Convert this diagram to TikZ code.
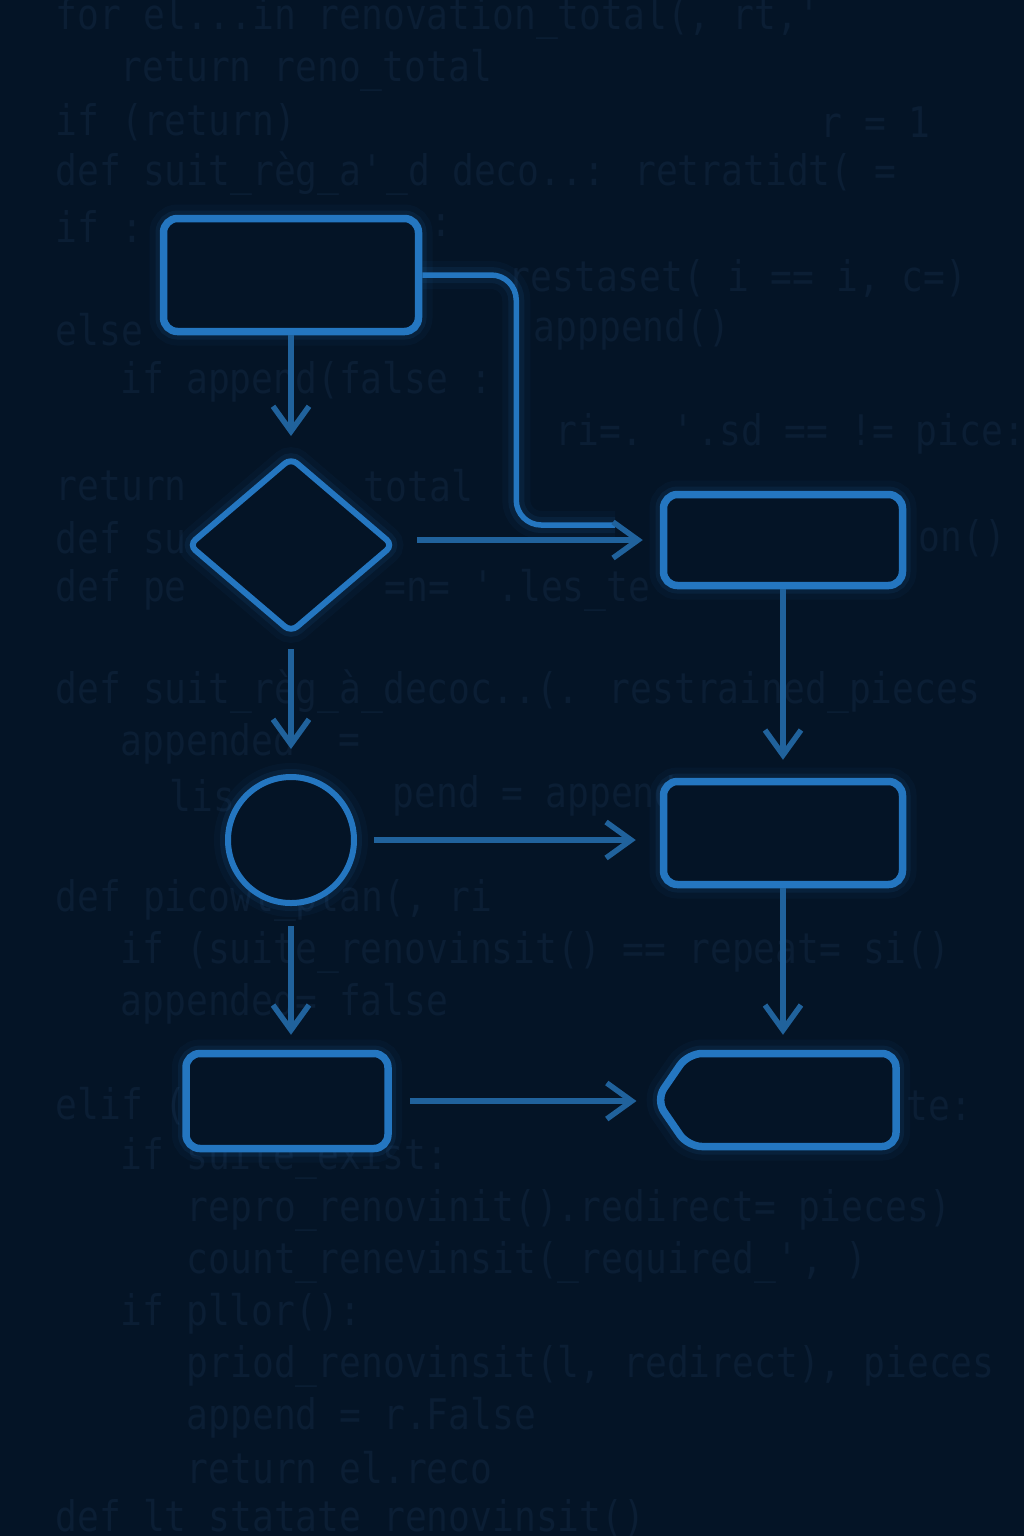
\documentclass[tikz,border=0pt]{standalone}
\usepackage{fontspec}
\usepackage{tikz}
\usetikzlibrary{arrows.meta, shapes.geometric, shapes.symbols, positioning}
\newfontfamily\codefont[FakeStretch=0.86]{DejaVu Sans Mono}
\definecolor{nightbg}{RGB}{4,20,38}
\definecolor{codegray}{RGB}{11,30,52}
\definecolor{flowblue}{RGB}{36,118,192}
\definecolor{arrowblue}{RGB}{32,98,156}

\begin{document}
\begin{tikzpicture}[
    x=0.1mm, y=-0.1mm,
    glow/.style={preaction={draw=#1, line width=2.8mm, opacity=0.05}, preaction={draw=#1, line width=1.6mm, opacity=0.10}},
    box/.style={rectangle, draw=flowblue, fill=nightbg, line width=0.75mm, rounded corners=1.4mm, inner sep=0pt, glow=flowblue},
    decision/.style={diamond, draw=flowblue, fill=nightbg, line width=0.6mm, rounded corners=0.8mm, minimum width=20.6mm, minimum height=17.6mm, inner sep=0pt, glow=flowblue},
    junction/.style={circle, draw=flowblue, fill=nightbg, line width=0.6mm, minimum size=12.6mm, inner sep=0pt, glow=flowblue},
    flag/.style={signal, signal to=west, signal pointer angle=111, draw=flowblue, fill=nightbg, line width=0.75mm, rounded corners=1.4mm, minimum width=24mm, minimum height=9.3mm, inner sep=0pt, glow=flowblue},
    link/.style={draw=flowblue, line width=0.55mm, rounded corners=2.5mm, glow=flowblue},
    arrow/.style={draw=arrowblue, line width=0.55mm, -{Straight Barb[length=2.5mm, width=3.6mm]}},
    codeline/.style={anchor=west, inner sep=0pt, text=codegray, font=\codefont\fontsize{12pt}{12pt}\selectfont}
]
    % Background
    \fill[nightbg] (0,0) rectangle (1024,1536);
    \useasboundingbox (0,0) rectangle (1024,1536);

    % Code in the background
    \foreach \x/\y/\t [count=\i] in {
        55/18/{for el...in renovation\_total(, rt,\textquotesingle},
        120/70/{return reno\_total},
        55/122/{if (return)}, 820/122/{r = 1},
        55/174/{def suit\_règ\_a\textquotesingle\_d deco..: retratidt( =},
        55/226/{if :}, 430/226/{:},
        508/278/{restaset( i == i, c=)},
        55/330/{else}, 533/330/{apppend()},
        120/382/{if append(false :},
        555/434/{ri=. \textquotesingle.sd == != pice:},
        55/486/{return}, 363/486/{total},
        55/538/{def su}, 918/538/{on()},
        55/590/{def pe}, 384/590/{=n= \textquotesingle.les\_te},
        55/692/{def suit\_règ\_à\_decoc..(. restrained\_pieces},
        120/744/{appended}, 338/744/{=},
        169/796/{lis}, 392/796/{pend = append},
        55/900/{def picowl\_plan(, ri},
        120/952/{if (suite\_renovinsit() == repeat= si()},
        120/1004/{appended= false},
        55/1106/{elif (}, 906/1106/{te:},
        120/1158/{if suite\_exist:},
        186/1210/{repro\_renovinit().redirect= pieces)},
        186/1262/{count\_renevinsit(\_required\_\textquotesingle, )},
        120/1314/{if pllor():},
        186/1366/{priod\_renovinsit(l, redirect), pieces},
        186/1418/{append = r.False},
        186/1468/{return el.reco},
        55/1520/{def lt\_statate\_renovinsit()}}
        \node[codeline] (code\i) at (\x,\y) {\t};

    % Shapes
    \node[box, minimum width=25.5mm, minimum height=11.3mm] (start) at (291,275) {};
    \node[decision] (check) at (291,545) {};
    \node[box, minimum width=23.9mm, minimum height=9.1mm] (load) at (783,540) {};
    \node[junction] (merge) at (291,840) {};
    \node[box, minimum width=23.9mm, minimum height=10.3mm] (process) at (783,833) {};
    \node[box, minimum width=20.2mm, minimum height=9.5mm] (store) at (287,1101) {};
    \node[flag] (finish) at (792,1100) {};
    \coordinate (loopend) at (615,525);

    % Side line from the start box
    \draw[link] (start.east) -- ++(94,0) |- (loopend);

    % Arrows, left column
    \draw[arrow, shorten >=1.8mm] (start) -- (check);
    \draw[arrow, shorten <=1.3mm, shorten >=2.5mm] (check) -- (merge);
    \draw[arrow, shorten <=2mm, shorten >=1.5mm] (merge.south) -- (merge.south |- store.north);

    % Arrows across
    \draw[arrow, shorten <=2mm, shorten >=1.7mm] (check.east |- load.west) -- (load.west);
    \draw[arrow, shorten <=1.7mm, shorten >=2.4mm] (merge.east) -- (merge.east -| process.west);
    \draw[arrow, shorten <=1.8mm, shorten >=1.5mm] (store.east) -- (store.east -| finish.west);

    % Arrows, right column
    \draw[arrow, shorten >=1.8mm] (load) -- (process);
    \draw[arrow, shorten >=1.5mm] (process.south) -- (process.south |- finish.north);
\end{tikzpicture}
\end{document}
